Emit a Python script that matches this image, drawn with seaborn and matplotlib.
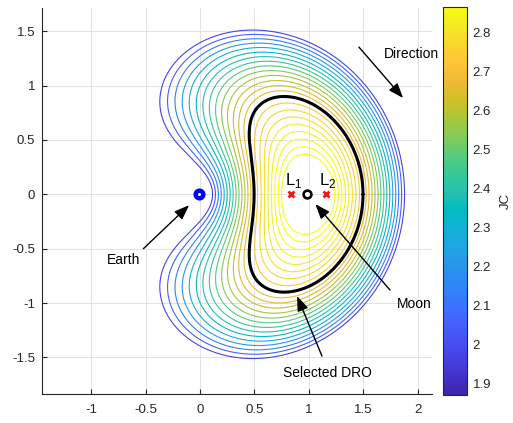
import numpy as np
import pandas as pd
import matplotlib
matplotlib.use("Agg")
import matplotlib.pyplot as plt
import seaborn as sns
from matplotlib.colors import LinearSegmentedColormap, Normalize
from matplotlib.cm import ScalarMappable

# ---------------- values ----------------
MU = 0.01215                      # Earth-Moon mass parameter
# right-hand x-axis crossing of each plotted DRO of the family
family_x0 = [1.240, 1.272, 1.305, 1.337, 1.369, 1.401, 1.433, 1.466,
             1.498, 1.527, 1.554, 1.581, 1.609, 1.636, 1.663, 1.690,
             1.717, 1.744, 1.772, 1.799, 1.826, 1.853, 1.880]
selected_x0 = 1.498               # the black "Selected DRO"
jc_limits = [1.870, 2.864]        # colour-bar range (JC)
earth_x = -MU
moon_x = 1 - MU
lagrange_x = [0.8369, 1.1557]
lagrange_labels = ["L$_{\\mathregular{1}}$", "L$_{\\mathregular{2}}$"]
x_ticks = [-1, -0.5, 0, 0.5, 1, 1.5, 2]
x_tick_labels = ["-1", "-0.5", "0", "0.5", "1", "1.5", "2"]
y_ticks = [-1.5, -1, -0.5, 0, 0.5, 1, 1.5]
y_tick_labels = ["-1.5", "-1", "-0.5", "0", "0.5", "1", "1.5"]
cbar_ticks = [1.9, 2.0, 2.1, 2.2, 2.3, 2.4, 2.5, 2.6, 2.7, 2.8]
cbar_tick_labels = ["1.9", "2", "2.1", "2.2", "2.3", "2.4", "2.5", "2.6", "2.7", "2.8"]
annotations = [  # text, text position, arrow tail, arrow head
    ("Earth", (-0.70, -0.60), (-0.52, -0.50), (-0.10, -0.10)),
    ("Direction", (1.94, 1.29), (1.46, 1.355), (1.866, 0.886)),
    ("Moon", (1.967, -1.01), (1.746, -0.88), (1.06, -0.09)),
    ("Selected DRO", (1.167, -1.645), (1.121, -1.488), (0.892, -0.936)),
]

# parula colour map anchors
parula_anchors = [
    (0.2422, 0.1504, 0.6603), (0.2647, 0.1978, 0.7952), (0.2783, 0.2559, 0.8991),
    (0.2810, 0.3228, 0.9579), (0.2699, 0.3892, 0.9906), (0.2206, 0.4603, 0.9973),
    (0.1786, 0.5289, 0.9682), (0.1540, 0.5902, 0.9218), (0.1248, 0.6459, 0.8883),
    (0.0689, 0.6948, 0.8394), (0.0067, 0.7312, 0.7660), (0.1408, 0.7584, 0.6842),
    (0.2161, 0.7843, 0.5923), (0.3406, 0.8008, 0.4789), (0.5044, 0.7993, 0.3480),
    (0.6720, 0.7793, 0.2227), (0.8203, 0.7498, 0.1535), (0.9393, 0.7288, 0.2100),
    (0.9970, 0.7659, 0.2199), (0.9786, 0.8386, 0.1766), (0.9597, 0.9135, 0.1423),
    (0.9769, 0.9839, 0.0805)]
parula = LinearSegmentedColormap.from_list("parula", parula_anchors)


# ---------------- CR3BP periodic-orbit solver ----------------
def accel(x, y, vx, vy):
    d1 = x + MU
    d2 = x - 1 + MU
    yy = y * y
    r1 = (d1 * d1 + yy + 1e-10) ** 1.5
    r2 = (d2 * d2 + yy + 1e-10) ** 1.5
    ax = 2 * vy + x - (1 - MU) * d1 / r1 - MU * d2 / r2
    ay = -2 * vx + y - (1 - MU) * y / r1 - MU * y / r2
    return ax, ay


def rk4(x, y, vx, vy, h):
    a1x, a1y = accel(x, y, vx, vy)
    x2, y2, vx2, vy2 = x + .5 * h * vx, y + .5 * h * vy, vx + .5 * h * a1x, vy + .5 * h * a1y
    a2x, a2y = accel(x2, y2, vx2, vy2)
    x3, y3, vx3, vy3 = x + .5 * h * vx2, y + .5 * h * vy2, vx + .5 * h * a2x, vy + .5 * h * a2y
    a3x, a3y = accel(x3, y3, vx3, vy3)
    x4, y4, vx4, vy4 = x + h * vx3, y + h * vy3, vx + h * a3x, vy + h * a3y
    a4x, a4y = accel(x4, y4, vx4, vy4)
    return (x + h / 6 * (vx + 2 * vx2 + 2 * vx3 + vx4),
            y + h / 6 * (vy + 2 * vy2 + 2 * vy3 + vy4),
            vx + h / 6 * (a1x + 2 * a2x + 2 * a3x + a4x),
            vy + h / 6 * (a1y + 2 * a2y + 2 * a3y + a4y))


def propagate(x0, vy0, h, tmax, record=False):
    x = np.asarray(x0, float).copy()
    vy = np.asarray(vy0, float).copy()
    y = np.zeros_like(x)
    vx = np.zeros_like(x)
    n = x.size
    done = np.zeros(n, bool)
    xc = np.full(n, np.nan)
    vxc = np.full(n, np.nan)
    kc = np.full(n, -1)
    hx, hy = [x.copy()], [y.copy()]
    for k in range(int(tmax / h)):
        xn, yn, vxn, vyn = rk4(x, y, vx, vy, h)
        cr = (~done) & (y < 0) & (yn >= 0)
        if cr.any():
            f = -y[cr] / (yn[cr] - y[cr])
            xc[cr] = x[cr] + f * (xn[cr] - x[cr])
            vxc[cr] = vx[cr] + f * (vxn[cr] - vx[cr])
            kc[cr] = k
            done |= cr
        x, y, vx, vy = xn, yn, vxn, vyn
        if record:
            hx.append(x.copy())
            hy.append(y.copy())
        if done.all():
            break
    if record:
        return xc, vxc, kc, np.array(hx), np.array(hy)
    return xc, vxc


def two_u(x):
    return x * x + 2 * (1 - MU) / np.abs(x + MU) + 2 * MU / np.abs(x - 1 + MU)


def vy_from_c(x0, c):
    return -np.sqrt(np.maximum(two_u(x0) - c, 1e-12))


np.seterr(all="ignore")
x0_all = np.array(family_x0 + [selected_x0])
n = len(x0_all)
c_grid = np.arange(1.50, 3.10, 0.01)
X0 = np.repeat(x0_all, len(c_grid))
CC = np.tile(c_grid, n)
xc_g, vx_g = propagate(X0, vy_from_c(X0, CC), 0.002, 5.0)
xc_g = xc_g.reshape(n, -1)
vx_g = vx_g.reshape(n, -1)
c_guess = jc_limits[1] - (x0_all - family_x0[0]) / (family_x0[-1] - family_x0[0]) * (jc_limits[1] - jc_limits[0])
lo = np.empty(n)
hi = np.empty(n)
for i in range(n):
    f, xx = vx_g[i], xc_g[i]
    best = None
    for j in range(len(c_grid) - 1):
        if not (np.isfinite(f[j]) and np.isfinite(f[j + 1])):
            continue
        if f[j] * f[j + 1] > 0 or abs(xx[j] - xx[j + 1]) > 0.05:
            continue
        if not (-0.05 < xx[j] < 0.98):
            continue
        cr = c_grid[j] - f[j] * (c_grid[j + 1] - c_grid[j]) / (f[j + 1] - f[j])
        if best is None or abs(cr - c_guess[i]) < abs(best[0] - c_guess[i]):
            best = (cr, j)
    j = best[1] if best else int(np.argmin(np.abs(c_grid - c_guess[i])))
    lo[i], hi[i] = c_grid[j], c_grid[j + 1]

H = 0.001
fa = propagate(x0_all, vy_from_c(x0_all, lo), H, 5.0)[1]
fb = propagate(x0_all, vy_from_c(x0_all, hi), H, 5.0)[1]
for _ in range(4):
    cm = hi - fb * (hi - lo) / (fb - fa)
    cm = np.where(np.isfinite(cm), cm, 0.5 * (lo + hi))
    fm = propagate(x0_all, vy_from_c(x0_all, cm), H, 5.0)[1]
    same = np.sign(fm) == np.sign(fa)
    lo, fa = np.where(same, cm, lo), np.where(same, fm, fa)
    hi, fb = np.where(~same, cm, hi), np.where(~same, fm, fb)
c_root = hi - fb * (hi - lo) / (fb - fa)
c_root = np.where(np.isfinite(c_root), c_root, 0.5 * (lo + hi))

xc_f, vxc_f, kc_f, HX, HY = propagate(x0_all, vy_from_c(x0_all, c_root), H, 5.0, record=True)

orbit_frames = []
for i in range(n):
    k = kc_f[i] if kc_f[i] >= 0 else HX.shape[0] - 1
    px = np.append(HX[:k + 1, i], xc_f[i])
    py = np.append(HY[:k + 1, i], 0.0)
    fx = np.concatenate([px, px[::-1]])[::3]
    fy = np.concatenate([py, -py[::-1]])[::3]
    fx = np.append(fx, fx[0])
    fy = np.append(fy, fy[0])
    orbit_frames.append(pd.DataFrame({"orbit": i, "x": fx, "y": fy, "JC": c_root[i]}))
family_df = pd.concat(orbit_frames[:-1], ignore_index=True)
selected_df = orbit_frames[-1]

# ---------------- figure ----------------
sns.set_style("white")
plt.rcParams["font.family"] = ["Liberation Sans", "DejaVu Sans"]
dark = (0.15, 0.15, 0.15)

fig = plt.figure(figsize=(5.13, 4.23), dpi=100)
ax = fig.add_axes([42 / 513, 29 / 423, 390 / 513, 386 / 423])
cax = fig.add_axes([443 / 513, 28 / 423, 24 / 513, 387.7 / 423])

norm = Normalize(vmin=jc_limits[0], vmax=jc_limits[1])
sns.lineplot(data=family_df, x="x", y="y", hue="JC", units="orbit", estimator=None,
             sort=False, palette=parula, hue_norm=norm, legend=False, lw=0.8, ax=ax)
sns.lineplot(data=selected_df, x="x", y="y", estimator=None, sort=False,
             color="black", lw=2.2, ax=ax)

ax.plot([earth_x], [0], "o", ms=5.5, mfc="white", mec=(0, 0, 1), mew=3.2, zorder=5)
ax.plot([moon_x], [0], "o", ms=5.6, mfc="white", mec="black", mew=1.9, zorder=5)
ax.plot(lagrange_x, [0, 0], "x", ms=4.2, mew=2.0, color=(0.93, 0.1, 0.1), ls="none", zorder=5)
for lx, lab, dx in zip(lagrange_x, lagrange_labels, [-0.057, -0.062]):
    ax.text(lx + dx, 0.086, lab, fontsize=12, ha="left", va="baseline", color="black")

arrow_style = "-|>,head_length=0.45,head_width=0.17"
for text, tpos, tail, head in annotations:
    ax.annotate("", xy=head, xytext=tail,
                arrowprops=dict(arrowstyle=arrow_style, color="black", lw=1.0,
                                mutation_scale=20, shrinkA=0, shrinkB=0))
    ax.text(tpos[0], tpos[1], text, fontsize=10, ha="center", va="center", color="black")

ax.set_xlim(-1.452, 2.132)
ax.set_ylim(-1.837, 1.714)
ax.set_xticks(x_ticks)
ax.set_xticklabels(x_tick_labels)
ax.set_yticks(y_ticks)
ax.set_yticklabels(y_tick_labels)
ax.set_xlabel("")
ax.set_ylabel("")
ax.grid(True, color=(0.87, 0.87, 0.87), lw=0.6)
ax.set_axisbelow(True)
for side in ["top", "right"]:
    ax.spines[side].set_visible(False)
for side in ["left", "bottom"]:
    ax.spines[side].set_color(dark)
    ax.spines[side].set_linewidth(0.8)
ax.tick_params(axis="both", direction="in", length=3.5, width=0.8, color=dark,
               labelcolor=dark, labelsize=9.5, bottom=True, left=True)
ax.tick_params(axis="x", pad=7)
ax.tick_params(axis="y", pad=5)

sm = ScalarMappable(norm=norm, cmap=parula)
cb = fig.colorbar(sm, cax=cax)
cb.set_ticks(cbar_ticks)
cb.set_ticklabels(cbar_tick_labels)
cb.outline.set_edgecolor(dark)
cb.outline.set_linewidth(0.8)
cax.tick_params(direction="in", length=3.5, width=0.8, color=dark, labelcolor=dark,
                labelsize=9.5, pad=4)
cb.set_label("JC", fontsize=9.5, color=dark, labelpad=6)

fig.savefig("out.png", dpi=100)
